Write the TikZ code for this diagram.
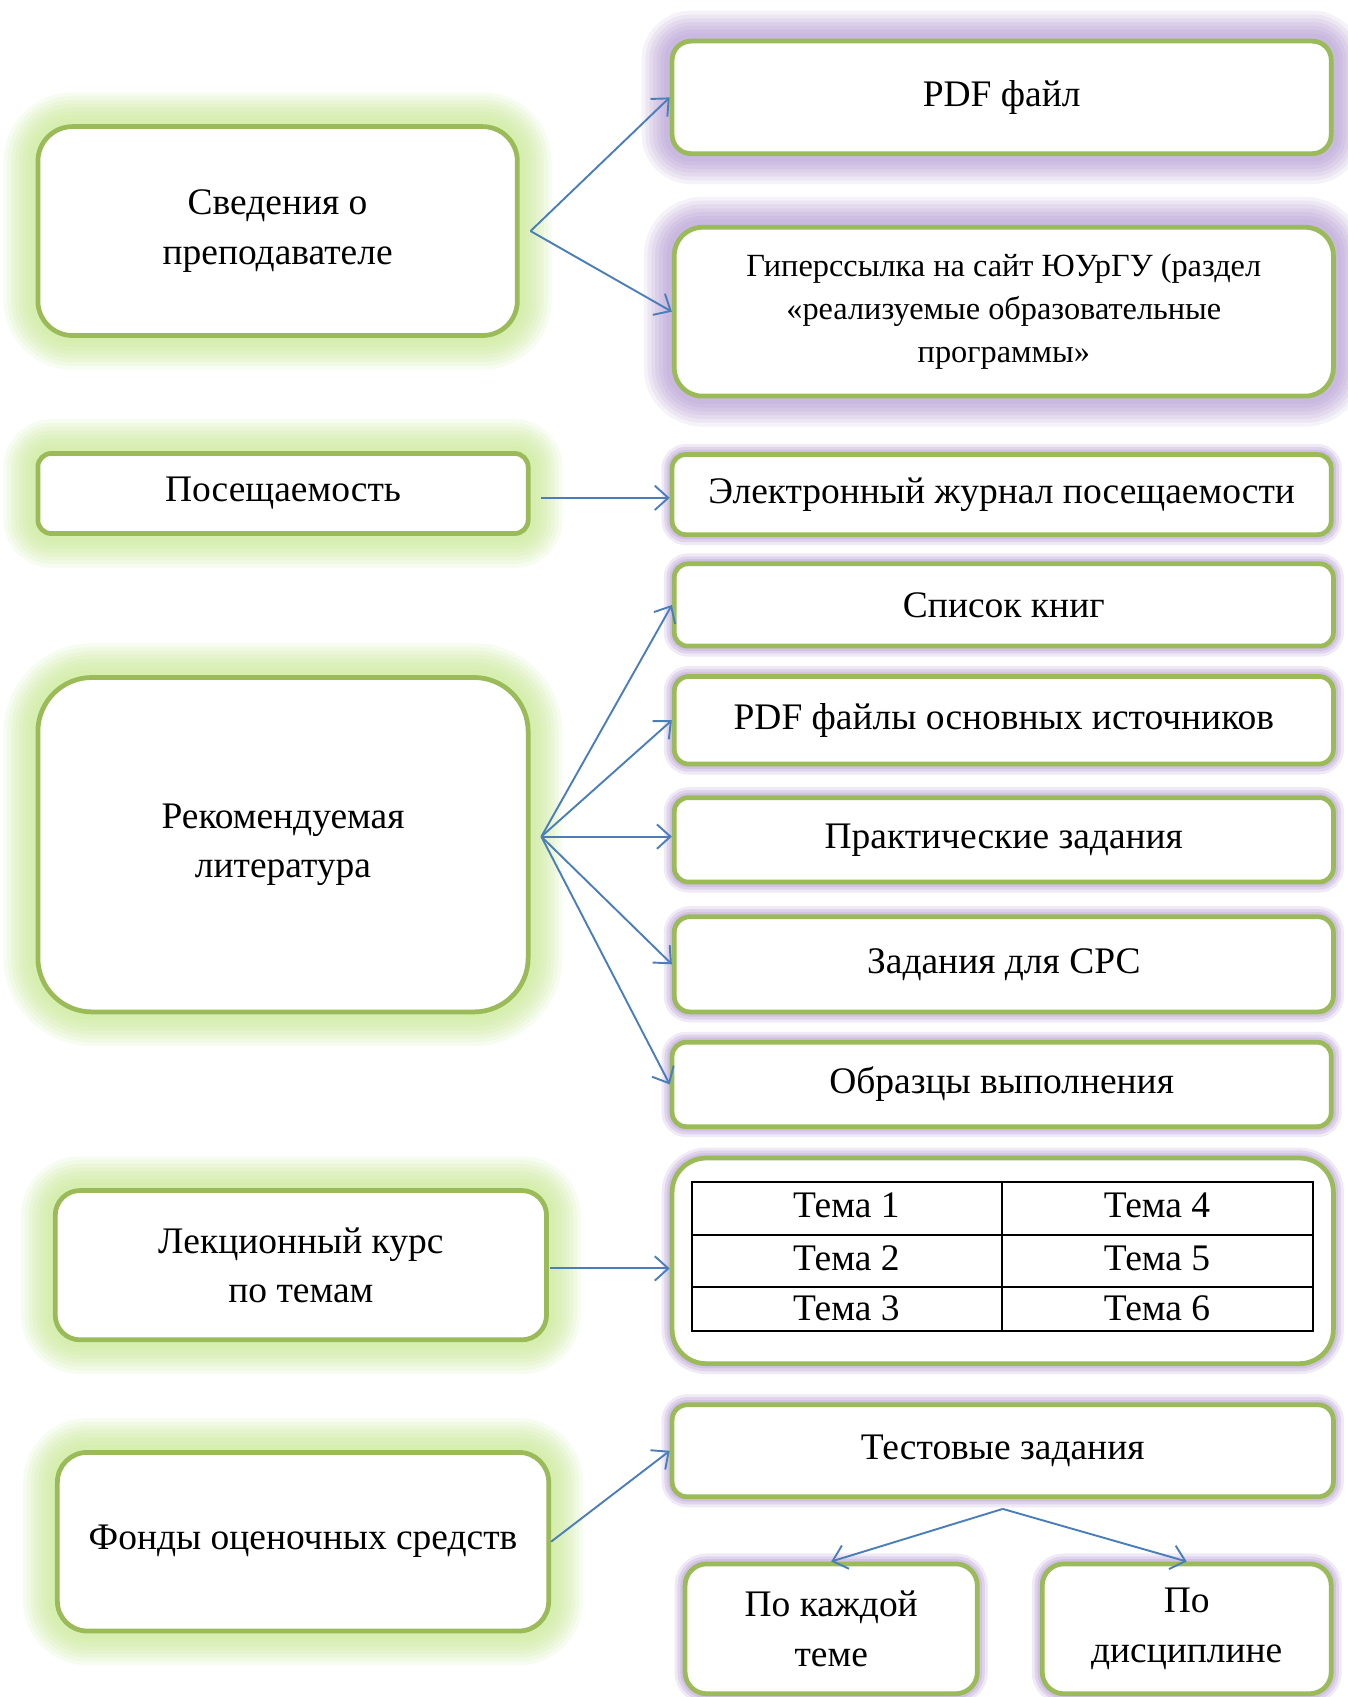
\documentclass[tikz,border=0pt]{standalone}
\usepackage{fontspec}
\setmainfont{Liberation Serif}
\usetikzlibrary{arrows.meta}
\definecolor{boxgreen}{RGB}{155,187,89}
\definecolor{glowG}{RGB}{196,232,135}
\definecolor{glowP}{RGB}{178,150,210}
\definecolor{arrowblue}{RGB}{74,126,187}
\newcommand{\mainsize}{\fontsize{19.7}{26}\selectfont}
\newcommand{\smallsize}{\fontsize{17}{22.8}\selectfont}

\begin{document}
\begin{tikzpicture}[
	box/.style={draw=boxgreen, line width=2.5pt, fill=white, align=center, font=\mainsize, inner sep=0pt},
	gglow/.style={preaction={draw=glowG, opacity=.12, line width=36pt},
		preaction={draw=glowG, opacity=.12, line width=32pt},
		preaction={draw=glowG, opacity=.12, line width=28pt},
		preaction={draw=glowG, opacity=.12, line width=24pt},
		preaction={draw=glowG, opacity=.12, line width=20pt},
		preaction={draw=glowG, opacity=.12, line width=16pt},
		preaction={draw=glowG, opacity=.12, line width=12pt},
		preaction={draw=glowG, opacity=.12, line width=8pt}},
	pglow/.style={preaction={draw=glowP, opacity=.12, line width=32pt},
		preaction={draw=glowP, opacity=.13, line width=28pt},
		preaction={draw=glowP, opacity=.14, line width=24pt},
		preaction={draw=glowP, opacity=.15, line width=20pt},
		preaction={draw=glowP, opacity=.15, line width=16pt},
		preaction={draw=glowP, opacity=.15, line width=12pt},
		preaction={draw=glowP, opacity=.15, line width=8pt}},
	sglow/.style={preaction={draw=glowP, opacity=.2, line width=11pt},
		preaction={draw=glowP, opacity=.25, line width=8pt},
		preaction={draw=glowP, opacity=.3, line width=5pt}},
	arr/.style={draw=arrowblue, line width=1pt, -{Straight Barb[length=2.5mm,width=4.5mm]}}
	]
	\path[use as bounding box, fill=white] (0,0) rectangle (24.9,-31.36);
	
	%left column
	\node[box, gglow, minimum width=8.86cm, minimum height=3.86cm, rounded corners=0.64cm] (info) at (5.13,-4.27) {Сведения о\\преподавателе};
	\node[box, gglow, minimum width=9.06cm, minimum height=1.48cm, rounded corners=0.25cm] (visit) at (5.23,-9.12) {Посещаемость};
	\node[box, gglow, minimum width=9.06cm, minimum height=6.18cm, rounded corners=1cm] (lit) at (5.23,-15.61) {Рекомендуемая\\литература};
	\node[box, gglow, minimum width=9.08cm, minimum height=2.76cm, rounded corners=0.46cm] (lect) at (5.56,-23.38) {Лекционный курс\\по темам};
	\node[box, gglow, minimum width=9.08cm, minimum height=3.30cm, rounded corners=0.55cm] (fund) at (5.60,-28.49) {Фонды оценочных средств};
	
	%right column
	\node[box, pglow, minimum width=12.18cm, minimum height=2.08cm, rounded corners=0.35cm] (pdf) at (18.51,-1.80) {PDF файл};
	\node[box, pglow, font=\smallsize, minimum width=12.18cm, minimum height=3.12cm, rounded corners=0.52cm] (site) at (18.55,-5.76) {Гиперссылка на сайт ЮУрГУ (раздел\\«реализуемые образовательные\\программы»};
	\node[box, sglow, minimum width=12.18cm, minimum height=1.48cm, rounded corners=0.25cm] (journal) at (18.51,-9.14) {Электронный журнал посещаемости};
	\node[box, sglow, minimum width=12.18cm, minimum height=1.52cm, rounded corners=0.25cm] (books) at (18.55,-11.18) {Список книг};
	\node[box, sglow, minimum width=12.18cm, minimum height=1.62cm, rounded corners=0.27cm] (sources) at (18.55,-13.31) {PDF файлы основных источников};
	\node[box, sglow, minimum width=12.18cm, minimum height=1.56cm, rounded corners=0.26cm] (practice) at (18.55,-15.52) {Практические задания};
	\node[box, sglow, minimum width=12.18cm, minimum height=1.76cm, rounded corners=0.29cm] (srs) at (18.55,-17.82) {Задания для СРС};
	\node[box, sglow, minimum width=12.18cm, minimum height=1.56cm, rounded corners=0.26cm] (samples) at (18.51,-20.04) {Образцы выполнения};
	\node[box, sglow, minimum width=12.22cm, minimum height=3.80cm, rounded corners=0.63cm] (topics) at (18.53,-23.30) {};
	\node[box, sglow, minimum width=12.22cm, minimum height=1.70cm, rounded corners=0.28cm] (tests) at (18.53,-26.81) {Тестовые задания};
	\node[box, sglow, minimum width=5.40cm, minimum height=2.40cm, rounded corners=0.4cm] (each) at (15.36,-30.10) {По каждой\\теме};
	\node[box, sglow, minimum width=5.34cm, minimum height=2.40cm, rounded corners=0.4cm] (disc) at (21.93,-30.10) {По\\дисциплине};
	
	%table of topics
	\draw[line width=1.1pt] (12.78,-21.84) rectangle (24.26,-24.60);
	\draw[line width=1.1pt] (12.78,-22.82) -- (24.26,-22.82);
	\draw[line width=1.1pt] (12.78,-23.78) -- (24.26,-23.78);
	\draw[line width=1.1pt] (18.52,-21.84) -- (18.52,-24.60);
	\foreach \i/\y in {1/-22.27, 2/-23.25, 3/-24.17}{
		\node[font=\mainsize] (t\i) at (15.64, \y) {Тема \i};
	}
	\foreach \i/\y in {4/-22.27, 5/-23.25, 6/-24.17}{
		\node[font=\mainsize] (t\i) at (21.38, \y) {Тема \i};
	}
	
	%arrows
	\coordinate (fan) at ([xshift=.2cm, yshift=.15cm]lit.east);
	\draw[arr] ([xshift=.2cm]info.east) -- (pdf.west);
	\draw[arr] ([xshift=.2cm]info.east) -- (site.west);
	\draw[arr] ([xshift=.2cm, yshift=-.08cm]visit.east) -- ([yshift=-.08cm]visit.east -| journal.west);
	\foreach \t in {books, sources, srs, samples}{
		\draw[arr] (fan) -- (\t.west);
	}
	\draw[arr] (fan) -- (fan -| practice.west);
	\draw[arr] ([xshift=.02cm, yshift=-.06cm]lect.east) -- ([yshift=-.06cm]lect.east -| topics.west);
	\draw[arr] (fund.east) -- (tests.west);
	\draw[arr] ([yshift=-.18cm]tests.south) -- (each.north);
	\draw[arr] ([yshift=-.18cm]tests.south) -- (disc.north);
\end{tikzpicture}
\end{document}
